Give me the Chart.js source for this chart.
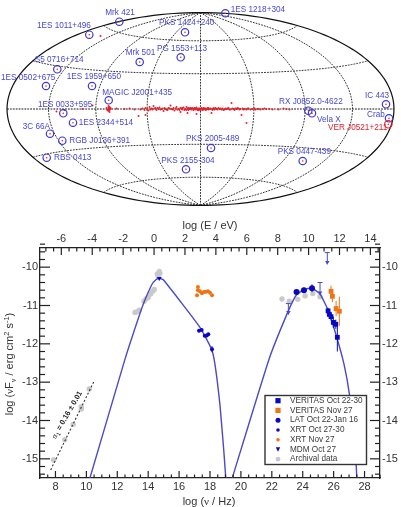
<!DOCTYPE html>
<html>
<head>
<meta charset="utf-8">
<title>Sky map and spectral energy distribution</title>
<script src="https://cdn.jsdelivr.net/npm/chart.js@4"></script>
<style>
    html, body { margin: 0; padding: 0; background: #ffffff; }
    canvas { position: absolute; left: 0; display: block; }
    #skyMap { top: 0; }
    #sedChart { top: 215px; }
</style>
</head>
<body>
<canvas id="skyMap" width="401" height="215"></canvas>
<canvas id="sedChart" width="401" height="292"></canvas>
<script>
// --- SKY MAP DATA (map units, origin at the centre of the projection) ---
const sourceNames = ['1ES 1011+496', 'Mrk 421', 'PKS 1424+240', '1ES 1218+304', 'Mrk 501', 'PG 1553+113', 'S5 0716+714', '1ES 0502+675', '1ES 1959+650', 'MAGIC J2001+435', '1ES 0033+595', '1ES 2344+514', '3C 66A', 'RGB J0136+391', 'RBS 0413', 'PKS 2155-304', 'PKS 2005-489', 'PKS 0447-439', 'RX J0852.0-4622', 'Vela X', 'IC 443', 'Crab', 'VER J0521+211'];
const sourceX = [-111.2, -81.2, -15.5, 24.8, -60.8, -19.8, -143.2, -154.5, -108.5, -91.8, -137.2, -127.5, -150.5, -138.2, -153.8, -14.5, 10.5, 102.2, 107.8, 111.5, 185.5, 188.5, 187.8];
const sourceY = [74.3, 87.3, 76.7, 95.7, 47, 51.7, 39.7, 23, 23, 8.7, -4.3, -13.7, -24.7, -31.7, -48.7, -60.3, -39, -52, -1.7, -4.3, 4.7, -9.3, -15.3];
const labelX = [-163.5, -95.2, -41.5, 30.2, -74.8, -43.5, -165.8, -199.5, -133.8, -98.2, -162.5, -121.8, -177.8, -131.2, -146.5, -39.2, -14.5, 77.2, 78.5, 116.5, 164.5, 166.5, 127.5];
const labelY = [83, 96.7, 86, 99, 56.3, 60.7, 49, 31, 32, 16.3, 4.7, -13.7, -17.7, -32, -48.7, -51.3, -30, -43, 7.7, -10.3, 13, -5.3, -19];
const highlightedSources = ['VER J0521+211'];

// Galactic plane sources
const planeX = [
    -144, -136, -118, -108, -100, -94, -93, -92, -92, -91, -91, -90,
    -84, -76, -71, -66, -62, -60, -58, -56, -55, -53, -52, -51,
    -49, -48, -47, -45, -44, -42, -41, -40, -38, -37, -36, -35,
    -33, -32, -31, -30, -28, -27, -26, -25, -24, -22, -21, -20,
    -19, -18, -17, -16, -15, -14, -13, -13, -12, -11, -10, -9,
    -8, -7, -6, -5, -4, -3, -2, -1, 0, 1, 2, 3,
    4, 5, 6, 7, 8, 10, 11, 12, 13, 14, 15, 17,
    18, 19, 21, 22, 23, 25, 26, 28, 30, 31, 33, 35,
    37, 39, 41, 42, 44, 46, 46, 48, 52, 55, 58, 62,
    66, 78, 83, 86, 89, -20, -4, -55,
    -92, -92, -91, -91, -90, -93,
    -50, -46, -43, -39, -34, -29, -23, -18, -14, -12,
    -11, -9, -7, -6, -5, -3, -2, -1, 1, 2,
    3, 5, 6, 8, 9, 12, 15, 16, 20, 24,
    27, 29, 32, 34, 36, 38, 40, 43, 47, 50,
    54, 57, 60, 64, 69, 72
];
const planeY = [
    -2.5, -1, 0, 3.5, 73, 1, -1, 3, -2, 1, -3, 0,
    0.5, 0, 0.5, -0.5, -7, -0.5, 0.5, -1, 1, 0, -1.5, 2,
    0.5, -0.5, 3, 1, -1, 0, 1.5, -0.5, 0.5, -2, 1, 0,
    -1, 1, 0.5, 3.5, -0.5, 1, -1.5, 0.5, 2, 0, -1, 1,
    0.5, -0.5, 1.5, -1, 0, 2, -4, 0.5, -1, 0.5, 1, -0.5,
    1, -1, 0.5, -0.5, 1.5, 0, -1, 0.5, -1.5, 1, 0, -0.5,
    0.5, -1, 0, 1, -0.5, 0.5, -4, 0, 1, -0.5, 0.5, -0.5,
    1, 0, -0.5, 0.5, -1, 0.5, 0, 1, -0.5, 6, 0, 0.5,
    1, -0.5, -6, 0.5, 0, -14, -0.5, 0.5, 0, -0.5, 0, 0,
    0, -0.5, 0.5, 0, -0.5, -3, -5, -6,
    0, 1, -1, 2, 1, -1,
    -0.5, 0.5, 1, 0, -0.5, 0, -0.5, 1, -1, 1,
    0, 0.5, -0.5, 1, 0.5, -1, 0.5, -0.5, 0.5, -1,
    1, 0.5, -0.5, 1, 0, -1, 1, 0, 0.5, -0.5,
    0.5, -0.5, 0.5, -1, 0, 0.5, 0, -0.5, 0.5, -0.5,
    0.5, 0, -0.5, 0.5, 0, -0.5
];

// --- SED DATA (log nu / Hz, log nuFnu / erg cm^-2 s^-1) ---
const nuTicks = [8, 10, 12, 14, 16, 18, 20, 22, 24, 26, 28];
const energyTicks = [-6, -4, -2, 0, 2, 4, 6, 8, 10, 12, 14];
const fluxTicks = [-15, -14, -13, -12, -11, -10];

const veritasOctNu = [25.64, 25.72, 25.83, 25.98, 26.14, 26.24];
const veritasOctFlux = [-11.14, -11.23, -11.29, -11.44, -11.49, -11.83];
const veritasOctErr = [0.08, 0.08, 0.1, 0.15, 0.12, 0.37];

const veritasNovNu = [25.83, 25.92, 26.16, 26.37];
const veritasNovFlux = [-10.63, -10.76, -11.08, -11.15];
const veritasNovErr = [0.15, 0.15, 0.2, 0.38];

const latNu = [23.6, 24.08, 24.6];
const latFlux = [-10.65, -10.6, -10.55];
const latErr = [0.06, 0.07, 0.1];

const xrtOctNu = [17.29, 17.46, 17.66, 17.79, 17.89, 18.13];
const xrtOctFlux = [-11.66, -11.64, -11.79, -11.78, -11.75, -12.14];
const xrtOctErr = [0.03, 0.03, 0.03, 0.03, 0.03, 0.08];

const xrtNovNu = [17.16, 17.22, 17.35, 17.48, 17.61, 17.74, 17.87, 18.0, 18.13, 17.22];
const xrtNovFlux = [-10.73, -10.6, -10.63, -10.68, -10.65, -10.64, -10.63, -10.67, -10.73, -10.52];

const mdmNu = [14.72];
const mdmFlux = [-10.29];

const archivalNu = [7.88, 8.6, 9.15, 9.67, 9.67, 10.19, 13.15, 13.29, 13.42, 13.73, 13.86, 14.0, 14.16, 14.29, 14.39, 14.72, 14.76, 14.59, 14.65, 22.66, 23.13, 23.68, 24.15, 24.65, 25.12];
const archivalFlux = [-15.03, -14.5, -14.1, -13.64, -13.7, -13.18, -11.18, -11.16, -11.12, -10.89, -10.83, -10.79, -10.7, -10.63, -10.58, -10.11, -10.16, -10.18, -10.25, -10.83, -10.89, -10.84, -10.75, -10.69, -10.77];

// Upper limits: cap position, the arrow runs down from it
const limitNu = [23.07, 25.12, 25.59];
const limitFlux = [-10.95, -10.4, -9.62];
const limitDrop = [0.28, 0.32, 0.3];

const synchrotronNu = [10.23, 12.5, 13.02, 13.68, 14.23, 14.5, 14.72, 14.98, 17.35, 18.1, 18.32, 18.65, 18.9, 19.02];
const synchrotronFlux = [-15.5, -12.4, -11.75, -10.97, -10.46, -10.33, -10.29, -10.33, -11.57, -12.14, -12.53, -13.62, -14.83, -15.5];
const inverseComptonNu = [19.44, 21.82, 23.07, 23.6, 24.1, 24.6, 25.12, 25.66, 26.2, 26.67, 27.02, 27.38, 27.5];
const inverseComptonFlux = [-15.5, -12.4, -11.14, -10.72, -10.58, -10.55, -10.7, -11.14, -11.83, -12.53, -13.31, -14.57, -15.5];

const radioFitNu = [7.69, 10.54];
const radioFitFlux = [-15.29, -12.94];

// --- COLORS ---
const colors = {
    blue: '#0808c4',
    orange: '#f07414',
    grey: '#c9c9c9',
    model: '#4a4ac6',
    label: '#4646d8',
    red: '#e3202c',
    axis: '#222222'
};
const fontFamily = '"Liberation Sans", Arial, sans-serif';

const toPoints = (xs, ys, errs) => xs.map((x, i) => ({ x: x, y: ys[i], yErr: errs ? errs[i] : 0 }));


// --- 1. SKY MAP ---
// Hammer-Aitoff projection, scaled to the map units used by the scales
function hammer(lonDeg, latDeg) {
    const lon = lonDeg * Math.PI / 180;
    const lat = latDeg * Math.PI / 180;
    const d = Math.sqrt(1 + Math.cos(lat) * Math.cos(lon / 2));
    return {
        x: 68.4 * 2 * Math.SQRT2 * Math.cos(lat) * Math.sin(lon / 2) / d,
        y: 68.2 * Math.SQRT2 * Math.sin(lat) / d
    };
}

function strokeProjected(chart, pts) {
    const ctx = chart.ctx;
    ctx.beginPath();
    pts.forEach((p, i) => {
        const px = chart.scales.x.getPixelForValue(p.x);
        const py = chart.scales.y.getPixelForValue(p.y);
        if (i === 0) ctx.moveTo(px, py); else ctx.lineTo(px, py);
    });
    ctx.stroke();
}

const range = (from, to, step) => {
    const out = [];
    for (let v = from; v <= to; v += step) out.push(v);
    return out;
};

const graticulePlugin = {
    id: 'graticule',
    beforeDatasetsDraw(chart) {
        const ctx = chart.ctx;
        ctx.save();
        ctx.setLineDash([1.8, 1.1]);
        ctx.lineWidth = 1;
        ctx.strokeStyle = '#333333';
        [-135, -90, -45, 0, 45, 90, 135].forEach(lon => {
            strokeProjected(chart, range(-90, 90, 3).map(lat => hammer(lon, lat)));
        });
        [-60, -30, 30, 60].forEach(lat => {
            strokeProjected(chart, range(-180, 180, 4).map(lon => hammer(lon, lat)));
        });
        ctx.strokeStyle = '#111111';
        strokeProjected(chart, range(-180, 180, 4).map(lon => hammer(lon, 0)));
        // Outline of the sky
        ctx.setLineDash([]);
        ctx.lineWidth = 1.2;
        strokeProjected(chart, range(-90, 90, 2).map(lat => hammer(180, lat)));
        strokeProjected(chart, range(-90, 90, 2).map(lat => hammer(-180, lat)));
        ctx.restore();
    }
};

const sourceLabelPlugin = {
    id: 'sourceLabels',
    afterDatasetsDraw(chart) {
        const ctx = chart.ctx;
        ctx.save();
        ctx.font = '8.2px ' + fontFamily;
        ctx.textBaseline = 'middle';
        ctx.textAlign = 'left';
        sourceNames.forEach((name, i) => {
            ctx.fillStyle = highlightedSources.includes(name) ? colors.red : colors.label;
            ctx.fillText(name, chart.scales.x.getPixelForValue(labelX[i]), chart.scales.y.getPixelForValue(labelY[i]));
        });
        ctx.restore();
    }
};

new Chart(document.getElementById('skyMap').getContext('2d'), {
    type: 'scatter',
    data: {
        datasets: [
            {
                label: 'Source centres',
                data: toPoints(sourceX, sourceY),
                pointRadius: 0.8,
                borderWidth: 0,
                backgroundColor: colors.red,
                order: 0
            },
            {
                label: 'Sources',
                data: toPoints(sourceX, sourceY),
                pointRadius: 3.7,
                pointBorderWidth: 1.2,
                backgroundColor: 'rgba(0,0,0,0)',
                pointBorderColor: c => highlightedSources.includes(sourceNames[c.dataIndex]) ? colors.red : '#3a3ad2',
                order: 1
            },
            {
                label: 'Galactic plane',
                data: toPoints(planeX, planeY),
                pointRadius: 1,
                borderWidth: 0,
                backgroundColor: colors.red,
                order: 2
            }
        ]
    },
    options: {
        responsive: false,
        animation: false,
        devicePixelRatio: 1,
        layout: { padding: 0, autoPadding: false },
        plugins: { legend: { display: false }, tooltip: { enabled: false } },
        scales: {
            x: { type: 'linear', min: -200.5, max: 200.5, display: false },
            y: { type: 'linear', min: -106, max: 109, display: false }
        }
    },
    plugins: [graticulePlugin, sourceLabelPlugin]
});


// --- 2. SED CHART ---
// Text made of pieces in different fonts, used for the sub- and superscripts
function drawRichText(ctx, pieces, cx, cy, rotation) {
    ctx.save();
    ctx.translate(cx, cy);
    ctx.rotate(rotation);
    ctx.textBaseline = 'alphabetic';
    ctx.textAlign = 'left';
    let total = 0;
    pieces.forEach(p => { ctx.font = p.font; total += ctx.measureText(p.text).width; });
    let x = -total / 2;
    pieces.forEach(p => {
        ctx.font = p.font;
        ctx.fillStyle = p.color || '#333333';
        ctx.fillText(p.text, x, 4 + (p.dy || 0));
        x += ctx.measureText(p.text).width;
    });
    ctx.restore();
}

const sansFont = '11px ' + fontFamily;
const serifFont = '11px "Liberation Serif", "Times New Roman", serif';
const smallFont = '7.5px ' + fontFamily;
const smallSerif = '8px "Liberation Serif", "Times New Roman", serif';

// Inward tick marks on all four sides
const tickMarksPlugin = {
    id: 'tickMarks',
    afterDatasetsDraw(chart) {
        const ctx = chart.ctx;
        const area = chart.chartArea;
        const { x, y, xTop } = chart.scales;
        ctx.save();
        ctx.strokeStyle = colors.axis;
        ctx.lineWidth = 1.2;
        const line = (x1, y1, x2, y2) => {
            ctx.beginPath();
            ctx.moveTo(x1, y1);
            ctx.lineTo(x2, y2);
            ctx.stroke();
        };
        for (let v = 7; v <= 29; v += 0.5) {
            const len = nuTicks.includes(v) ? 7 : 3.5;
            const px = x.getPixelForValue(v);
            line(px, area.bottom, px, area.bottom - len);
        }
        for (let v = -7; v <= 14.5; v += 0.5) {
            const len = energyTicks.includes(v) ? 7 : 3.5;
            const px = xTop.getPixelForValue(v);
            line(px, area.top, px, area.top + len);
        }
        for (let i = 0; i <= 30; i++) {
            const v = -15.4 + i * 0.2;
            const len = fluxTicks.some(t => Math.abs(t - v) < 0.01) ? 10 : 5;
            const py = y.getPixelForValue(v);
            line(area.left, py, area.left + len, py);
            line(area.right, py, area.right - len, py);
        }
        ctx.restore();
    }
};

// Vertical error bars and the shafts of the upper limit arrows
const errorBarPlugin = {
    id: 'errorBars',
    afterDatasetsDraw(chart) {
        const ctx = chart.ctx;
        const { x, y } = chart.scales;
        ctx.save();
        ctx.lineWidth = 1;
        chart.data.datasets.forEach(ds => {
            ds.data.forEach(p => {
                if (!p.yErr) return;
                ctx.strokeStyle = ds.backgroundColor;
                ctx.beginPath();
                ctx.moveTo(x.getPixelForValue(p.x), y.getPixelForValue(p.y - p.yErr));
                ctx.lineTo(x.getPixelForValue(p.x), y.getPixelForValue(p.y + p.yErr));
                ctx.stroke();
            });
        });
        ctx.strokeStyle = colors.model;
        limitNu.forEach((nu, i) => {
            const px = x.getPixelForValue(nu);
            const top = y.getPixelForValue(limitFlux[i]);
            ctx.beginPath();
            ctx.moveTo(px - 2.5, top);
            ctx.lineTo(px + 2.5, top);
            ctx.moveTo(px, top);
            ctx.lineTo(px, y.getPixelForValue(limitFlux[i] - limitDrop[i]));
            ctx.stroke();
        });
        ctx.restore();
    }
};

// Axis titles that mix fonts, and the slope note beside the radio fit
const annotationPlugin = {
    id: 'annotations',
    afterDraw(chart) {
        const ctx = chart.ctx;
        drawRichText(ctx, [
            { text: 'log (', font: sansFont },
            { text: 'ν', font: serifFont },
            { text: 'F', font: sansFont },
            { text: 'ν', font: smallSerif, dy: 3 },
            { text: ' / erg cm', font: sansFont },
            { text: '2', font: smallFont, dy: -4 },
            { text: ' s', font: sansFont },
            { text: '-1', font: smallFont, dy: -4 },
            { text: ')', font: sansFont }
        ], 9, 149, -Math.PI / 2);
        drawRichText(ctx, [
            { text: 'log (', font: sansFont },
            { text: 'ν', font: serifFont },
            { text: ' / Hz)', font: sansFont }
        ], 209, 285.5, 0);
        drawRichText(ctx, [
            { text: 'α', font: '8px "Liberation Serif", serif', color: '#222222' },
            { text: '1', font: '6px ' + fontFamily, dy: 2, color: '#222222' },
            { text: ' = 0.16 ± 0.01', font: 'bold 7.5px ' + fontFamily, color: '#222222' }
        ], 65.5, 199, -Math.PI / 180 * 60);
    }
};

const legendPlugin = {
    id: 'insetLegend',
    afterDraw(chart) {
        const ctx = chart.ctx;
        const rows = chart.data.datasets.filter(d => d.legendSize);
        ctx.save();
        ctx.fillStyle = '#ffffff';
        ctx.strokeStyle = '#333333';
        ctx.lineWidth = 1.4;
        ctx.fillRect(265, 180.5, 101.5, 69);
        ctx.strokeRect(265, 180.5, 101.5, 69);
        ctx.font = '8.2px ' + fontFamily;
        ctx.textBaseline = 'middle';
        ctx.textAlign = 'left';
        rows.forEach((d, i) => {
            const cy = 185.7 + i * 9.75;
            const r = d.legendSize;
            ctx.fillStyle = d.backgroundColor;
            ctx.beginPath();
            if (d.pointStyle === 'rect') {
                ctx.rect(278 - r, cy - r, 2 * r, 2 * r);
            } else if (d.pointStyle === 'triangle') {
                ctx.moveTo(278 - r, cy - r);
                ctx.lineTo(278 + r, cy - r);
                ctx.lineTo(278, cy + r);
                ctx.closePath();
            } else {
                ctx.arc(278, cy, r, 0, Math.PI * 2);
            }
            ctx.fill();
            ctx.fillStyle = '#3a3a3a';
            ctx.fillText(d.label, 290, cy);
        });
        ctx.restore();
    }
};

// Pin the axis boxes so the plot area stays put
const fixWidth = w => scale => { scale.width = w; };
const fixHeight = h => scale => { scale.height = h; };
const tickStyle = { color: '#333333', font: { size: 11, family: fontFamily }, padding: 2, callback: v => String(v) };
const noGrid = { display: false, drawTicks: false };
const frame = { display: true, color: colors.axis, width: 1.3 };
const useTicks = values => scale => { scale.ticks = values.map(v => ({ value: v })); };

new Chart(document.getElementById('sedChart').getContext('2d'), {
    type: 'scatter',
    data: {
        datasets: [
            {
                label: 'VERITAS Oct 22-30',
                data: toPoints(veritasOctNu, veritasOctFlux, veritasOctErr),
                pointStyle: 'rect',
                pointRadius: 3.4,
                borderWidth: 0,
                backgroundColor: colors.blue,
                legendSize: 2.6,
                order: 1
            },
            {
                label: 'VERITAS Nov 27',
                data: toPoints(veritasNovNu, veritasNovFlux, veritasNovErr),
                pointStyle: 'rect',
                pointRadius: 3.4,
                borderWidth: 0,
                backgroundColor: colors.orange,
                legendSize: 2.6,
                order: 1
            },
            {
                label: 'LAT Oct 22-Jan 16',
                data: toPoints(latNu, latFlux, latErr),
                pointRadius: 3,
                borderWidth: 0,
                backgroundColor: colors.blue,
                legendSize: 2.5,
                order: 1
            },
            {
                label: 'XRT Oct 27-30',
                data: toPoints(xrtOctNu, xrtOctFlux, xrtOctErr),
                pointRadius: 2,
                borderWidth: 0,
                backgroundColor: colors.blue,
                legendSize: 1.8,
                order: 1
            },
            {
                label: 'XRT Nov 27',
                data: toPoints(xrtNovNu, xrtNovFlux),
                pointRadius: 2,
                borderWidth: 0,
                backgroundColor: colors.orange,
                legendSize: 1.8,
                order: 1
            },
            {
                label: 'MDM Oct 27',
                data: toPoints(mdmNu, mdmFlux),
                pointStyle: 'triangle',
                rotation: 180,
                pointRadius: 2.8,
                borderWidth: 0,
                backgroundColor: colors.blue,
                legendSize: 2.2,
                order: 1
            },
            {
                label: 'Archival data',
                data: toPoints(archivalNu, archivalFlux),
                pointRadius: 2.7,
                borderWidth: 0,
                backgroundColor: colors.grey,
                legendSize: 2.4,
                order: 4
            },
            {
                // Arrow heads of the upper limits
                label: 'Upper limits',
                data: limitNu.map((nu, i) => ({ x: nu, y: limitFlux[i] - limitDrop[i] + 0.05 })),
                pointStyle: 'triangle',
                rotation: 180,
                pointRadius: 2.6,
                borderWidth: 0,
                backgroundColor: colors.model,
                order: 0
            },
            {
                label: 'Synchrotron',
                data: toPoints(synchrotronNu, synchrotronFlux),
                showLine: true,
                tension: 0.15,
                pointRadius: 0,
                borderColor: colors.model,
                borderWidth: 1.4,
                order: 2
            },
            {
                label: 'Inverse Compton',
                data: toPoints(inverseComptonNu, inverseComptonFlux),
                showLine: true,
                tension: 0.15,
                pointRadius: 0,
                borderColor: colors.model,
                borderWidth: 1.4,
                order: 2
            },
            {
                label: 'Radio fit',
                data: toPoints(radioFitNu, radioFitFlux),
                showLine: true,
                pointRadius: 0,
                borderColor: '#333333',
                borderWidth: 1.1,
                borderDash: [2, 2],
                order: 3
            }
        ]
    },
    options: {
        responsive: false,
        animation: false,
        devicePixelRatio: 1,
        layout: { padding: 0, autoPadding: false },
        plugins: { legend: { display: false }, tooltip: { enabled: false } },
        scales: {
            x: {
                type: 'linear', position: 'bottom', min: 7, max: 29,
                grid: noGrid, border: frame, ticks: tickStyle,
                afterBuildTicks: useTicks(nuTicks), afterFit: fixHeight(29)
            },
            xTop: {
                type: 'linear', position: 'top', min: -7.38, max: 14.62,
                grid: noGrid, border: frame, ticks: tickStyle,
                title: { display: true, text: 'log (E / eV)', color: '#333333', font: { size: 11, family: fontFamily }, padding: { top: 4, bottom: 0 } },
                afterBuildTicks: useTicks(energyTicks), afterFit: fixHeight(33)
            },
            y: {
                type: 'linear', position: 'left', min: -15.5, max: -9.5,
                grid: noGrid, border: frame, ticks: tickStyle,
                afterBuildTicks: useTicks(fluxTicks), afterFit: fixWidth(40)
            },
            yRight: {
                type: 'linear', position: 'right', min: -15.5, max: -9.5,
                grid: noGrid, border: frame, ticks: tickStyle,
                afterBuildTicks: useTicks(fluxTicks), afterFit: fixWidth(21)
            }
        }
    },
    plugins: [tickMarksPlugin, errorBarPlugin, annotationPlugin, legendPlugin]
});
</script>
</body>
</html>
